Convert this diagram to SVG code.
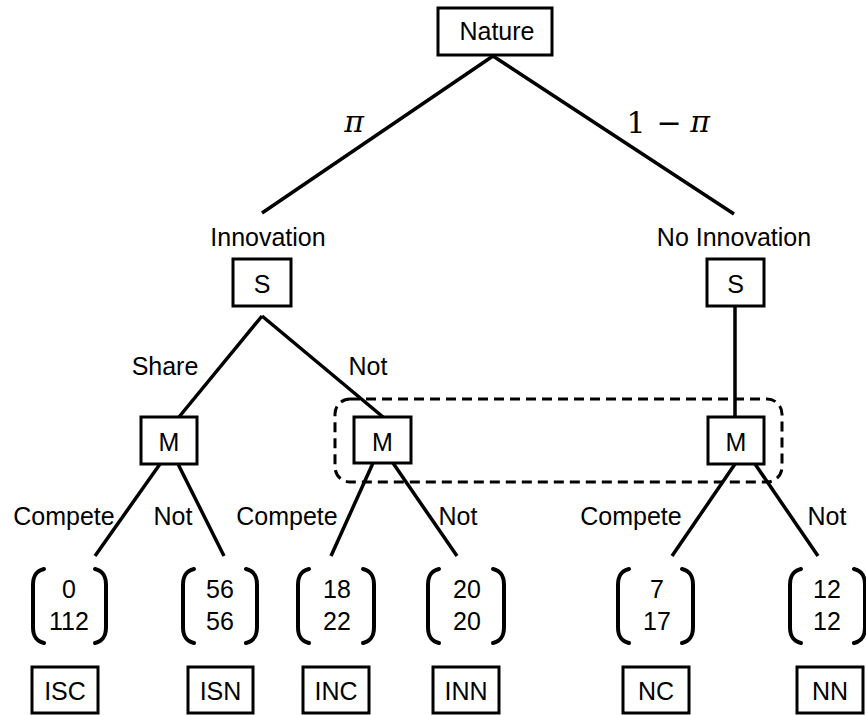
<svg xmlns="http://www.w3.org/2000/svg" width="866" height="715" viewBox="0 0 866 715">
<style>
  .box { fill: #fff; stroke: #000; stroke-width: 3; }
  .t { font-family: "Liberation Sans", Arial, sans-serif; font-size: 25px; fill: #000; text-anchor: middle; }
  .m { font-family: "DejaVu Serif", "Liberation Serif", serif; font-size: 30px; fill: #000; text-anchor: middle; }
  .edge { stroke: #000; stroke-width: 3.5; fill: none; }
  .par { stroke: #000; stroke-width: 4; fill: none; stroke-linecap: round; }
</style>
<rect width="866" height="715" fill="#fff"/>
<g id="connectors">
  <line class="edge" x1="493" y1="56" x2="262" y2="213"/>
  <line class="edge" x1="493" y1="56" x2="734" y2="214"/>
  <line class="edge" x1="262" y1="316" x2="179" y2="417"/>
  <line class="edge" x1="262" y1="316" x2="383" y2="417"/>
  <line class="edge" x1="735" y1="306" x2="735" y2="417"/>
  <line class="edge" x1="160" y1="464" x2="95" y2="556"/>
  <line class="edge" x1="178" y1="464" x2="224" y2="556"/>
  <line class="edge" x1="373" y1="463" x2="331" y2="556"/>
  <line class="edge" x1="393" y1="463" x2="457" y2="556"/>
  <line class="edge" x1="735" y1="464" x2="672" y2="556"/>
  <line class="edge" x1="755" y1="464" x2="818" y2="556"/>
  <text class="m" x="354" y="132" font-style="italic">π</text>
  <text class="m" x="636" y="133">1</text>
  <text class="m" x="669" y="133">−</text>
  <text class="m" x="700" y="132" font-style="italic">π</text>
  <text class="t" x="165" y="375">Share</text>
  <text class="t" x="368" y="375">Not</text>
  <text class="t" x="64" y="525">Compete</text>
  <text class="t" x="173" y="525">Not</text>
  <text class="t" x="287" y="525">Compete</text>
  <text class="t" x="458" y="525">Not</text>
  <text class="t" x="631" y="525">Compete</text>
  <text class="t" x="827" y="525">Not</text>
</g>
<g id="infoset">
  <rect x="335" y="399" width="447" height="83" rx="15" fill="none" stroke="#000" stroke-width="3" stroke-dasharray="10 6"/>
</g>
<g id="nature">
  <rect class="box" x="438" y="8" width="114" height="47"/>
  <text class="t" x="497" y="40">Nature</text>
</g>
<g id="s-innov">
  <text class="t" x="268" y="246">Innovation</text>
  <rect class="box" x="233" y="259" width="58" height="47"/>
  <text class="t" x="262" y="293">S</text>
</g>
<g id="s-noinnov">
  <text class="t" x="734" y="246">No Innovation</text>
  <rect class="box" x="707" y="259" width="57" height="47"/>
  <text class="t" x="735.5" y="293">S</text>
</g>
<g id="m1">
  <rect class="box" x="141" y="417" width="56" height="47"/>
  <text class="t" x="169" y="451">M</text>
</g>
<g id="m2">
  <rect class="box" x="354" y="417" width="57" height="46"/>
  <text class="t" x="382.5" y="451">M</text>
</g>
<g id="m3">
  <rect class="box" x="708" y="417" width="56" height="47"/>
  <text class="t" x="736" y="451">M</text>
</g>
<g id="payoff-isc">
  <path class="par" d="M44 569 C36 571 33 576 33 585 L33 627 C33 636 36 641 44 643"/>
  <path class="par" d="M95 569 C103 571 106 576 106 585 L106 627 C106 636 103 641 95 643"/>
  <text class="t" x="69" y="598">0</text>
  <text class="t" x="69" y="630">112</text>
</g>
<g id="payoff-isn">
  <path class="par" d="M194 569 C186 571 183 576 183 585 L183 627 C183 636 186 641 194 643"/>
  <path class="par" d="M246 569 C254 571 257 576 257 585 L257 627 C257 636 254 641 246 643"/>
  <text class="t" x="220" y="598">56</text>
  <text class="t" x="220" y="630">56</text>
</g>
<g id="payoff-inc">
  <path class="par" d="M309 569 C301 571 298 576 298 585 L298 627 C298 636 301 641 309 643"/>
  <path class="par" d="M363 569 C371 571 374 576 374 585 L374 627 C374 636 371 641 363 643"/>
  <text class="t" x="337" y="598">18</text>
  <text class="t" x="337" y="630">22</text>
</g>
<g id="payoff-inn">
  <path class="par" d="M439 569 C431 571 428 576 428 585 L428 627 C428 636 431 641 439 643"/>
  <path class="par" d="M493 569 C501 571 504 576 504 585 L504 627 C504 636 501 641 493 643"/>
  <text class="t" x="467" y="598">20</text>
  <text class="t" x="467" y="630">20</text>
</g>
<g id="payoff-nc">
  <path class="par" d="M629 569 C621 571 618 576 618 585 L618 627 C618 636 621 641 629 643"/>
  <path class="par" d="M682 569 C690 571 693 576 693 585 L693 627 C693 636 690 641 682 643"/>
  <text class="t" x="657" y="598">7</text>
  <text class="t" x="657" y="630">17</text>
</g>
<g id="payoff-nn">
  <path class="par" d="M801 569 C793 571 790 576 790 585 L790 627 C790 636 793 641 801 643"/>
  <path class="par" d="M854 569 C862 571 865 576 865 585 L865 627 C865 636 862 641 854 643"/>
  <text class="t" x="827" y="598">12</text>
  <text class="t" x="827" y="630">12</text>
</g>
<g id="isc">
  <rect class="box" x="32" y="667" width="66" height="46"/>
  <text class="t" x="65" y="700">ISC</text>
</g>
<g id="isn">
  <rect class="box" x="188" y="667" width="65" height="46"/>
  <text class="t" x="220.5" y="700">ISN</text>
</g>
<g id="inc">
  <rect class="box" x="303" y="667" width="66" height="46"/>
  <text class="t" x="336" y="700">INC</text>
</g>
<g id="inn">
  <rect class="box" x="433" y="667" width="66" height="46"/>
  <text class="t" x="466" y="700">INN</text>
</g>
<g id="nc">
  <rect class="box" x="623" y="667" width="66" height="46"/>
  <text class="t" x="656" y="700">NC</text>
</g>
<g id="nn">
  <rect class="box" x="797" y="667" width="66" height="46"/>
  <text class="t" x="830" y="700">NN</text>
</g>
</svg>
